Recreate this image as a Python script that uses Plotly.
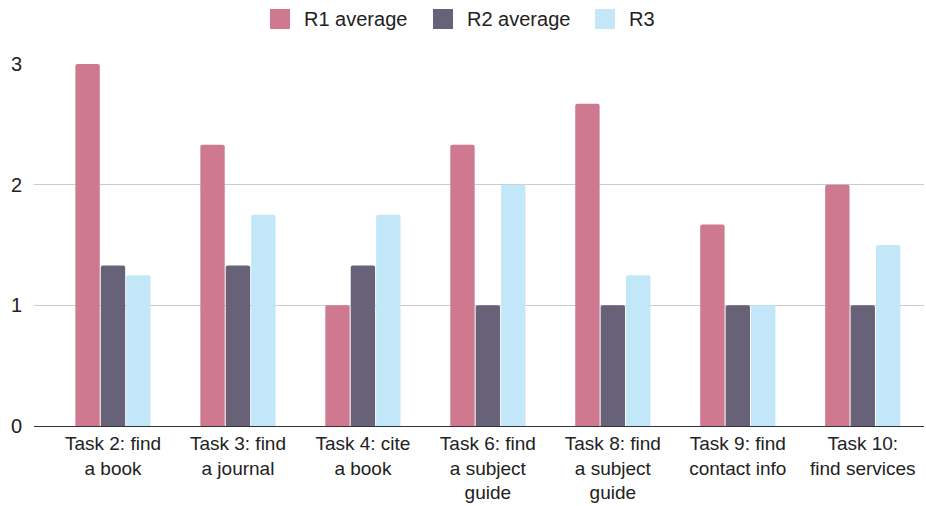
import plotly.graph_objects as go

categories = [
    "Task 2: find<br>a book",
    "Task 3: find<br>a journal",
    "Task 4: cite<br>a book",
    "Task 6: find<br>a subject<br>guide",
    "Task 8: find<br>a subject<br>guide",
    "Task 9: find<br>contact info",
    "Task 10:<br>find services",
]
r1_average = [3.0, 2.33, 1.0, 2.33, 2.67, 1.67, 2.0]
r2_average = [1.33, 1.33, 1.33, 1.0, 1.0, 1.0, 1.0]
r3 = [1.25, 1.75, 1.75, 2.0, 1.25, 1.0, 1.5]

series = [
    ("R1 average", r1_average, "#cf7990"),
    ("R2 average", r2_average, "#686278"),
    ("R3", r3, "#c1e7f8"),
]

W, H = 926, 506
ML, MR, MT, MB = 34, 2, 64, 80
PW, PH = W - ML - MR, H - MT - MB

fig = go.Figure()
for name, vals, color in series:
    fig.add_trace(go.Bar(
        x=list(range(len(categories))), y=vals, name=name, showlegend=False,
        marker=dict(color=color, cornerradius=2, line=dict(width=0)),
    ))

# custom legend (larger swatches like the reference)
legend_swatch_px = [270, 433, 595]
legend_y_px = 19
sw = 20
for (name, _, color), sx in zip(series, legend_swatch_px):
    x0 = (sx - ML) / PW
    x1 = (sx + sw - ML) / PW
    y0 = (H - MB - (legend_y_px + sw / 2)) / PH
    y1 = (H - MB - (legend_y_px - sw / 2)) / PH
    fig.add_shape(type="rect", xref="paper", yref="paper", x0=x0, x1=x1, y0=y0, y1=y1,
                  fillcolor=color, line=dict(width=0))
    fig.add_annotation(xref="paper", yref="paper", x=(sx + sw + 12 - ML) / PW,
                       y=(H - MB - legend_y_px) / PH, text=name, showarrow=False,
                       xanchor="left", yanchor="middle", font=dict(size=20, color="#222222"))

font = "Liberation Sans, Arial, sans-serif"
fig.update_layout(
    width=W, height=H,
    margin=dict(l=ML, r=MR, t=MT, b=MB),
    paper_bgcolor="white", plot_bgcolor="white",
    barmode="group", bargap=0.39, bargroupgap=0.04,
    font=dict(family=font, size=20, color="#222222"),
    showlegend=False,
    xaxis=dict(
        tickmode="array", tickvals=list(range(len(categories))), ticktext=categories,
        range=[-0.632, 6.49], showgrid=False, zeroline=False, showline=False,
        ticks="", ticklabelstandoff=4, tickfont=dict(size=19, color="#222222"),
        automargin=False,
    ),
    yaxis=dict(
        range=[0, 3], tickvals=[0, 1, 2, 3], showgrid=True, gridcolor="#cccccc",
        gridwidth=1, zeroline=True, zerolinecolor="#333333", zerolinewidth=1,
        ticks="", ticklabelstandoff=11, tickfont=dict(size=20, color="#222222"),
        automargin=False,
    ),
)
fig.write_html("out.html", config={"displayModeBar": False},
               post_script="document.body.style.margin='0';")
